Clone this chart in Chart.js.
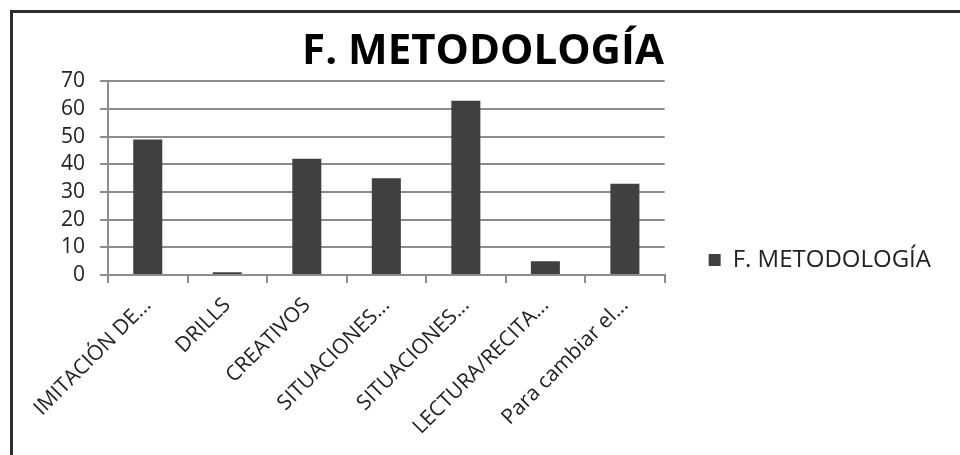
<!DOCTYPE html>
<html>
<head>
<meta charset="utf-8">
<script src="https://cdn.jsdelivr.net/npm/chart.js@4.4.1/dist/chart.umd.min.js"></script>
<style>
  html, body { margin: 0; padding: 0; background: #fff; }
  body { width: 960px; height: 455px; overflow: hidden; position: relative; }
  #frame { position: absolute; left: 10px; top: 10px; width: 950px; height: 445px;
           border-top: 3px solid #2e2e2e; border-left: 3px solid #2e2e2e; box-sizing: border-box; }
  #wrap { position: absolute; left: 0; top: 0; width: 947px; height: 442px; }
</style>
</head>
<body>
<div id="frame"><div id="wrap"><canvas id="c" width="947" height="442"></canvas></div></div>
<script>
const chartTitle = "F. METODOLOGÍA";
const seriesName = "F. METODOLOGÍA";
const categories = ["IMITACIÓN DE...", "DRILLS", "CREATIVOS", "SITUACIONES...", "SITUACIONES...", "LECTURA/RECITA...", "Para cambiar el..."];
const values = [49, 1, 42, 35, 63, 5, 33];
const yTicks = [0, 10, 20, 30, 40, 50, 60, 70];

const FONT = "'Open Sans', 'Noto Sans', sans-serif";
const gridGrey = "#8c8c8c";
const PAD_L = 12, PAD_R = 19;
const PLOT_BOTTOM = 262;

new Chart(document.getElementById("c"), {
  type: "bar",
  data: {
    labels: categories,
    datasets: [{
      label: seriesName,
      data: values,
      backgroundColor: "#404040",
      borderWidth: 0,
      categoryPercentage: 1.0,
      barPercentage: 0.365
    }]
  },
  options: {
    responsive: false,
    animation: false,
    layout: { padding: { left: PAD_L, right: PAD_R, top: 0, bottom: 0 } },
    plugins: {
      title: {
        display: true,
        text: chartTitle,
        color: "#000",
        font: { family: FONT, size: 42, weight: "bold" },
        padding: { top: 14, bottom: 4 }
      },
      legend: {
        display: true,
        position: "right",
        align: "center",
        maxWidth: 320,
        title: { display: true, text: "", font: { size: 10 }, padding: { top: 40, bottom: 0 } },
        labels: {
          color: "#222",
          font: { family: FONT, size: 24 },
          boxWidth: 12,
          boxHeight: 12,
          padding: 44
        }
      },
      tooltip: { enabled: false }
    },
    scales: {
      x: {
        grid: { display: true, drawOnChartArea: false, drawTicks: true, tickLength: 8, color: gridGrey, lineWidth: 2, offset: true },
        border: { display: true, color: gridGrey, width: 2 },
        ticks: {
          color: "#222",
          font: { family: FONT, size: 21 },
          minRotation: 45, maxRotation: 45,
          autoSkip: false,
          padding: 10
        },
        afterFit: (s) => { s.height = 442 - PLOT_BOTTOM; }
      },
      y: {
        min: 0, max: 70,
        afterBuildTicks: (s) => { s.ticks = yTicks.map(v => ({ value: v })); },
        grid: { color: gridGrey, lineWidth: 2, tickLength: 8 },
        border: { display: true, color: gridGrey, width: 2 },
        ticks: {
          color: "#222",
          font: { family: FONT, size: 21 },
          padding: 15,
          autoSkip: false
        },
        afterFit: (s) => { s.width = 95 - PAD_L; }
      }
    }
  }
});
</script>
</body>
</html>
